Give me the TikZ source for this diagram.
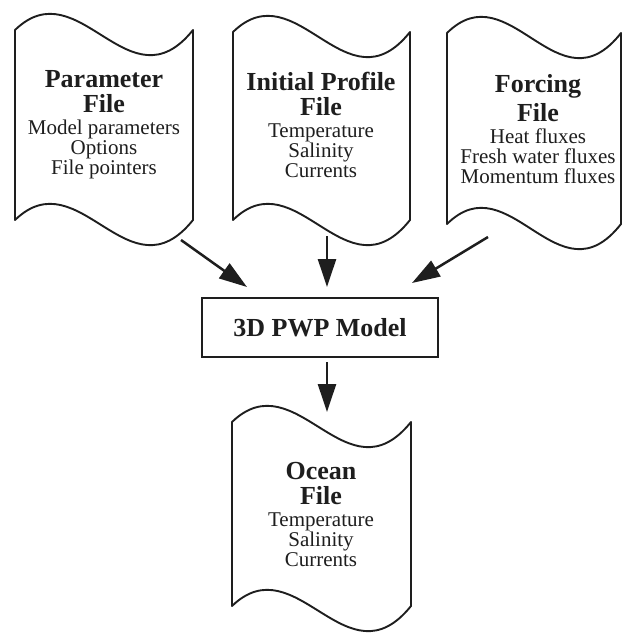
\documentclass[tikz,border=0pt]{standalone}
\usepackage{fontspec}
\setmainfont{Liberation Serif}
\usetikzlibrary{arrows.meta}
\definecolor{ink}{HTML}{1E1E1E}
\newcommand\hdfont{\fontsize{26}{23}\selectfont\bfseries}
\newcommand\bdfont{\fontsize{21}{20}\selectfont}
% wavy "document" outline: left x, right x, top corner y, bottom corner y
\newcommand\docoutline[4]{%
  \pgfmathsetmacro\wa{#1+(#2-#1)*0.36}%
  \pgfmathsetmacro\wb{#2-(#2-#1)*0.36}%
  \draw[docline] (#1,#3) .. controls (\wa,#3-62) and (\wb,#3+80) .. (#2,#3)
    -- (#2,#4) .. controls (\wb,#4+80) and (\wa,#4-62) .. (#1,#4) -- cycle;
}
\tikzset{
  docline/.style={draw=ink, line width=1.9pt, line join=round},
  doctext/.style={align=center, font=\bdfont, text=ink, inner sep=0pt},
  modelbox/.style={draw=ink, line width=1.9pt, minimum width=236pt, minimum height=59pt,
    inner sep=0pt, font=\hdfont, text=ink},
  arr/.style={draw=ink, line width=2.5pt, -{Triangle[length=28pt,width=18pt]}},
}
\begin{document}
\begin{tikzpicture}[x=1pt,y=-1pt]
\useasboundingbox[fill=white] (0,0) rectangle (623,633);

% file outlines
\docoutline{15}{193}{30}{220}
\docoutline{233}{410}{32}{220}
\docoutline{447}{621}{33}{224}
\docoutline{232}{411}{422}{606}

% file contents
\node[doctext] (param) at (104,125)
  {{\hdfont Parameter}\\[5pt]{\hdfont File}\\[2pt]Model parameters\\Options\\File pointers};
\node[doctext] (init) at (321,125)
  {{\hdfont Initial Profile}\\[5pt]{\hdfont File}\\[2pt]Temperature\\Salinity\\Currents};
\node[doctext] (forcing) at (538,129)
  {{\hdfont Forcing}\\[5pt]{\hdfont File}\\[2pt]Heat fluxes\\Fresh water fluxes\\Momentum fluxes};
\node[doctext] (ocean) at (321,514)
  {{\hdfont Ocean}\\[5pt]{\hdfont File}\\[2pt]Temperature\\Salinity\\Currents};

% model box
\node[modelbox] (model) at (320,327.5) {3D PWP Model};

% connector ends
\coordinate (param-out) at (181,240);
\coordinate (init-out) at (327,236);
\coordinate (forcing-out) at (488,237);
\coordinate (model-out) at (327,362);
\coordinate (in-a) at (247,287);
\coordinate (in-b) at (327,287);
\coordinate (in-c) at (412,283);
\coordinate (ocean-in) at (327,412);

\draw[arr] (param-out) -- (in-a);
\draw[arr] (init-out) -- (in-b);
\draw[arr] (forcing-out) -- (in-c);
\draw[arr] (model-out) -- (ocean-in);
\end{tikzpicture}
\end{document}
